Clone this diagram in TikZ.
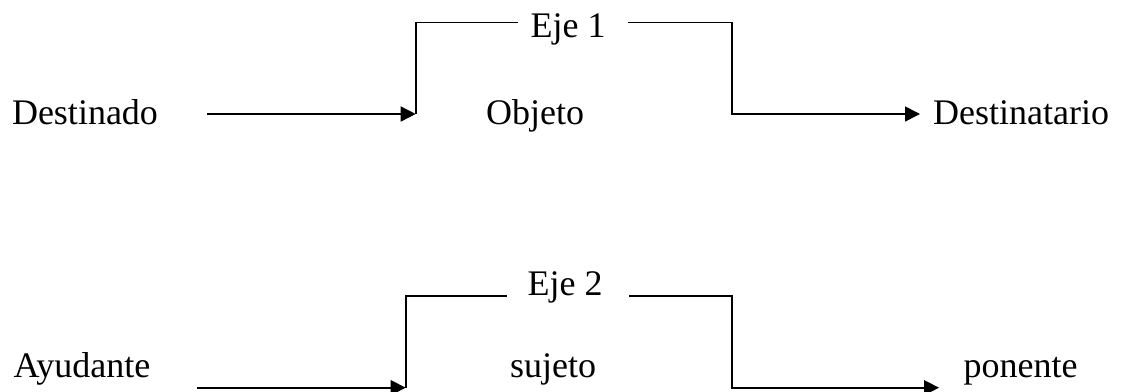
\documentclass[tikz,border=0pt]{standalone}
\usepackage{fontspec}
\setmainfont{Liberation Serif}
\usetikzlibrary{positioning, arrows.meta}

\begin{document}
\begin{tikzpicture}[
x=1pt, y=-1pt,
every node/.style={font=\fontsize{36}{40}\selectfont, inner sep=0pt, anchor=base},
linea/.style={line width=1.6pt},
flecha/.style={line width=1.6pt, -{Triangle[length=15pt, width=15pt]}}
]
\useasboundingbox (0,0) rectangle (1124,391);

% ====== Eje 1 ======
\node (destinado) at (85,124) {Destinado};
\node (objeto) at (535,124) {Objeto};
\node (destinatario) at (1021,124) {Destinatario};
\node (eje1) at (568,37) {Eje 1};

\coordinate (in1) at (207,114);
\coordinate (sube1) at (415.7,114);
\coordinate (arriba1) at (518,22.3);
\coordinate (arriba1b) at (628,22.3);
\coordinate (baja1) at (731.7,114);
\coordinate (out1) at (920,114);

\draw[flecha] (in1) -- (sube1);
\draw[linea] (sube1) |- (arriba1);
\draw[flecha] (arriba1b) -| (baja1) -- (out1);

% ====== Eje 2 ======
\node (ayudante) at (82,377) {Ayudante};
\node (sujeto) at (553,377) {sujeto};
\node (ponente) at (1020.5,377) {ponente};
\node (eje2) at (565,295) {Eje 2};

\coordinate (in2) at (197,387.7);
\coordinate (sube2) at (405.7,387.7);
\coordinate (arriba2) at (507,295.7);
\coordinate (arriba2b) at (629,295.7);
\coordinate (baja2) at (731.7,387.7);
\coordinate (out2) at (939,387.7);

\draw[flecha] (in2) -- (sube2);
\draw[linea] (sube2) |- (arriba2);
\draw[flecha] (arriba2b) -| (baja2) -- (out2);

\end{tikzpicture}
\end{document}
